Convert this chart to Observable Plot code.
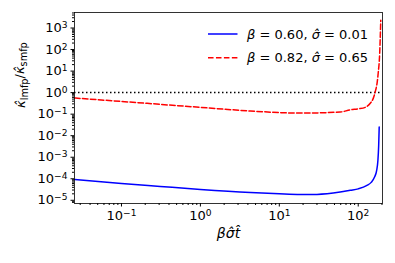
<!DOCTYPE html>
<html><head><meta charset="utf-8">
<script src="https://cdn.jsdelivr.net/npm/d3@7"></script>
<script src="https://cdn.jsdelivr.net/npm/@observablehq/plot@0.6"></script>
<style>body{margin:0;background:#fff}#chart{width:395px;height:263px}</style>
</head><body><div id="chart"></div>
<script>
// ---- data ----
const tBlue = [0.0254, 0.1, 0.31, 1, 4.3, 10, 18.4, 30, 59, 79, 100, 129, 146, 161, 171, 177.5, 181.6, 184.4];
const kBlue = [9.3e-5, 6.0e-5, 4.4e-5, 3.2e-5, 2.3e-5, 2.0e-5, 1.87e-5, 1.88e-5, 2.4e-5, 2.9e-5, 3.4e-5, 4.9e-5, 6.8e-5, 1.2e-4, 2.4e-4, 7e-4, 3.5e-3, 0.025];
const tRed = [0.0254, 0.1, 0.31, 1, 4.3, 18.4, 59, 79, 100, 122.7, 142, 155, 164, 174, 179, 187, 193];
const kRed = [0.56, 0.39, 0.285, 0.207, 0.14, 0.112, 0.125, 0.158, 0.177, 0.207, 0.32, 0.54, 1.07, 3.1, 7.9, 67, 2300];
const refLevel = [1];
const legendLabels = ["β = 0.60, σ̂ = 0.01", "β = 0.82, σ̂ = 0.65"];
const xMajor = [0.1, 1, 10, 100];
const xMajorLabels = ["10|−1", "10|0", "10|1", "10|2"];
const yMajor = [1e-5, 1e-4, 1e-3, 1e-2, 1e-1, 1, 10, 100, 1000];
const yMajorLabels = ["10|−5", "10|−4", "10|−3", "10|−2", "10|−1", "10|0", "10|1", "10|2", "10|3"];
const xLabel = "βσ̂t̂";
const yLabel = "κ̂|lmfp/κ̂|smfp";

const minorTicks = (lo, hi) => {
  const out = [];
  for (let e = lo; e <= hi; e++) for (let m = 2; m <= 9; m++) out.push(m * Math.pow(10, e));
  return out;
};
const xMinor = minorTicks(-2, 2).filter(v => v >= 0.0254 && v <= 203);
const yMinor = minorTicks(-6, 3).filter(v => v >= 7.1e-6 && v <= 5250);

const blue = tBlue.map((t, i) => ({t, k: kBlue[i]}));
const red = tRed.map((t, i) => ({t, k: kRed[i]}));

const chart = Plot.plot({
  width: 395, height: 263,
  marginLeft: 74, marginRight: 13, marginTop: 12, marginBottom: 60,
  style: {fontFamily: "'DejaVu Sans', sans-serif", fontSize: "13px", background: "white", color: "black"},
  x: {type: "log", domain: [0.0254, 203]},
  y: {type: "log", domain: [7.1e-6, 5250]},
  marks: [
    Plot.ruleY(refLevel, {stroke: "black", strokeWidth: 1.5, strokeDasharray: "1.5,2.5"}),
    Plot.line(blue, {x: "t", y: "k", stroke: "#0000ff", strokeWidth: 1.5, curve: "monotone-x"}),
    Plot.line(red, {x: "t", y: "k", stroke: "#ff0000", strokeWidth: 1.5, strokeDasharray: "5.55,2.4", curve: "monotone-x"}),
    Plot.axisX({ticks: xMinor, tickSize: 2, tickFormat: () => "", label: null}),
    Plot.axisX({ticks: xMajor, tickSize: 3.5, tickPadding: 3.5, tickFormat: d => xMajorLabels[xMajor.indexOf(d)], label: null}),
    Plot.axisY({ticks: yMinor, tickSize: 2, tickFormat: () => "", label: null}),
    Plot.axisY({ticks: yMajor, tickSize: 3.5, tickPadding: 3.5, tickFormat: d => yMajorLabels[yMajor.indexOf(d)], label: null}),
    Plot.frame({stroke: "black", strokeWidth: 0.8}),
    Plot.text([xLabel], {text: d => d, frameAnchor: "bottom", dy: 34, fontStyle: "italic", fontSize: 14}),
    Plot.text([yLabel], {text: d => d, frameAnchor: "left", dx: -54, rotate: -90, fontSize: 13})
  ]
});
document.getElementById("chart").appendChild(chart);

const svg = d3.select(chart.tagName.toLowerCase() === "svg" ? chart : chart.querySelector("svg"));

// superscript tick labels and sub-scripted axis label
svg.selectAll("text").each(function () {
  const s = this.textContent;
  const sel = d3.select(this);
  if (/^10\|/.test(s)) {
    const [base, exp] = s.split("|");
    sel.text("");
    sel.append("tspan").text(base);
    sel.append("tspan").attr("dy", "-0.45em").style("font-size", "0.7em").text(exp);
  } else if (s === yLabel) {
    sel.text("");
    s.split("/").forEach((p, i) => {
      const [sym, sub] = p.split("|");
      if (i > 0) sel.append("tspan").attr("dy", "-0.3em").text("/");
      sel.append("tspan").style("font-style", "italic").text(sym);
      sel.append("tspan").attr("dy", "0.3em").style("font-size", "0.75em").text(sub);
    });
  }
});

// legend (inside the axes, upper right)
const leg = svg.append("g")
  .attr("font-family", "'DejaVu Sans', sans-serif")
  .attr("font-size", 13)
  .attr("text-anchor", "start");
const legStyles = [
  {stroke: "#0000ff", dash: null},
  {stroke: "#ff0000", dash: "5.55,2.4"}
];
legendLabels.forEach((lab, i) => {
  const yLine = 34 + i * 23.7;
  leg.append("line").attr("x1", 208).attr("x2", 237.5).attr("y1", yLine).attr("y2", yLine)
    .attr("stroke", legStyles[i].stroke).attr("stroke-width", 1.5)
    .attr("stroke-dasharray", legStyles[i].dash);
  const t = leg.append("text").attr("x", 247).attr("y", yLine + 4.5).attr("fill", "black")
    .attr("text-anchor", "start");
  lab.split(/([α-ω]\u0302?)/).forEach(piece => {
    if (!piece) return;
    const sp = t.append("tspan").text(piece);
    if (/[α-ω]/.test(piece)) sp.style("font-style", "italic");
  });
});
</script>
</body></html>
